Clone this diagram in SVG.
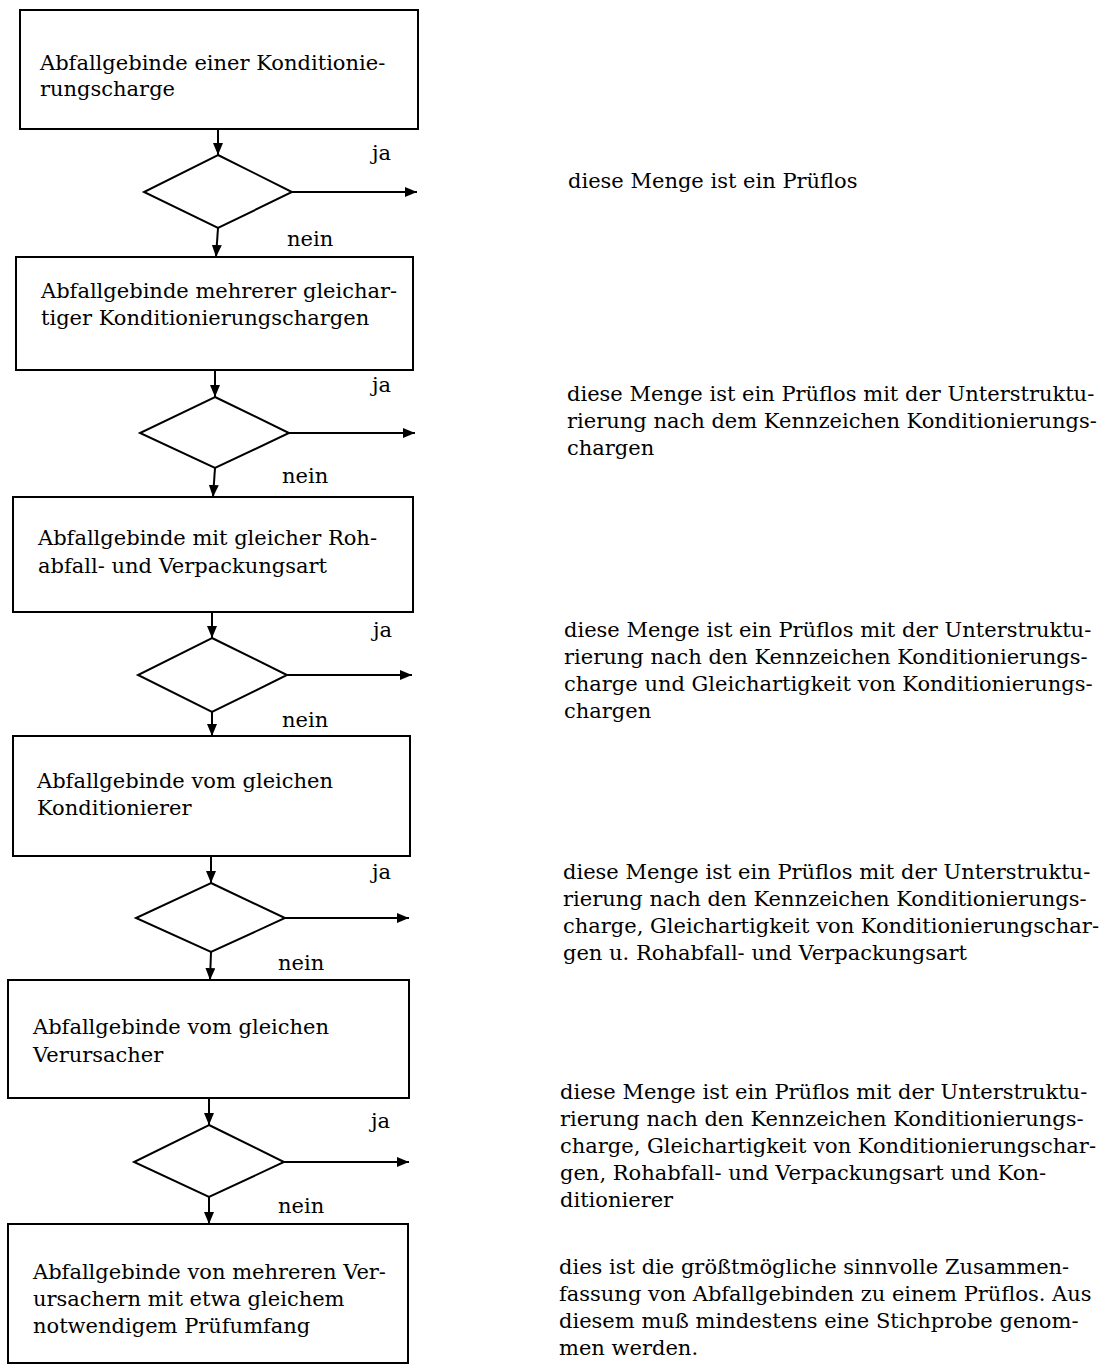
<svg xmlns="http://www.w3.org/2000/svg" width="1116" height="1367" viewBox="0 0 1116 1367">
<defs>
<style>
.box{fill:#fff;stroke:#000;stroke-width:2}
.dia{fill:#fff;stroke:#000;stroke-width:2;stroke-linejoin:miter}
.con{stroke:#000;stroke-width:2;fill:none}
text{font-family:"DejaVu Serif","Liberation Serif",serif;font-size:21px;fill:#000}
</style>
<marker id="ah" markerUnits="userSpaceOnUse" markerWidth="14" markerHeight="12" refX="12" refY="5" orient="auto">
<path d="M0,0 L12,5 L0,10 z" fill="#000"/>
</marker>
</defs>
<rect width="1116" height="1367" fill="#fff"/>

<g id="connectors">
<line class="con" x1="218" y1="129" x2="218" y2="155" marker-end="url(#ah)"/>
<line class="con" x1="292" y1="192" x2="417" y2="192" marker-end="url(#ah)"/>
<line class="con" x1="218" y1="228" x2="216" y2="257" marker-end="url(#ah)"/>
<line class="con" x1="215" y1="370" x2="215" y2="397" marker-end="url(#ah)"/>
<line class="con" x1="289" y1="433" x2="415" y2="433" marker-end="url(#ah)"/>
<line class="con" x1="215" y1="468" x2="213" y2="497" marker-end="url(#ah)"/>
<line class="con" x1="212" y1="612" x2="212" y2="638" marker-end="url(#ah)"/>
<line class="con" x1="287" y1="675" x2="412" y2="675" marker-end="url(#ah)"/>
<line class="con" x1="212" y1="712" x2="212" y2="736" marker-end="url(#ah)"/>
<line class="con" x1="211" y1="856" x2="211" y2="883" marker-end="url(#ah)"/>
<line class="con" x1="285" y1="918" x2="409" y2="918" marker-end="url(#ah)"/>
<line class="con" x1="211" y1="952" x2="210" y2="980" marker-end="url(#ah)"/>
<line class="con" x1="209" y1="1098" x2="209" y2="1125" marker-end="url(#ah)"/>
<line class="con" x1="284" y1="1162" x2="409" y2="1162" marker-end="url(#ah)"/>
<line class="con" x1="209" y1="1197" x2="209" y2="1224" marker-end="url(#ah)"/>
<text x="372" y="160">ja</text>
<text x="287" y="246">nein</text>
<text x="372" y="392">ja</text>
<text x="282" y="483">nein</text>
<text x="373" y="637">ja</text>
<text x="282" y="727">nein</text>
<text x="372" y="879">ja</text>
<text x="278" y="970">nein</text>
<text x="371" y="1128">ja</text>
<text x="278" y="1213">nein</text>
</g>

<g id="box1">
<rect class="box" x="20" y="10" width="398" height="119"/>
<text x="40" y="70">Abfallgebinde einer Konditionie-</text>
<text x="40" y="96">rungscharge</text>
</g>
<g id="dec1"><polygon class="dia" points="218,155 292,192 218,228 144,192"/></g>
<g id="res1"><text x="568" y="188">diese Menge ist ein Prüflos</text></g>

<g id="box2">
<rect class="box" x="16" y="257" width="397" height="113"/>
<text x="41" y="298">Abfallgebinde mehrerer gleichar-</text>
<text x="41" y="325">tiger Konditionierungschargen</text>
</g>
<g id="dec2"><polygon class="dia" points="215,397 289,433 215,468 140,433"/></g>
<g id="res2">
<text x="567" y="401">diese Menge ist ein Prüflos mit der Unterstruktu-</text>
<text x="567" y="428">rierung nach dem Kennzeichen Konditionierungs-</text>
<text x="567" y="455">chargen</text>
</g>

<g id="box3">
<rect class="box" x="13" y="497" width="400" height="115"/>
<text x="38" y="545">Abfallgebinde mit gleicher Roh-</text>
<text x="38" y="573">abfall- und Verpackungsart</text>
</g>
<g id="dec3"><polygon class="dia" points="212,638 287,675 212,712 138,675"/></g>
<g id="res3">
<text x="564" y="637">diese Menge ist ein Prüflos mit der Unterstruktu-</text>
<text x="564" y="664">rierung nach den Kennzeichen Konditionierungs-</text>
<text x="564" y="691">charge und Gleichartigkeit von Konditionierungs-</text>
<text x="564" y="718">chargen</text>
</g>

<g id="box4">
<rect class="box" x="13" y="736" width="397" height="120"/>
<text x="37" y="788">Abfallgebinde vom gleichen</text>
<text x="37" y="815">Konditionierer</text>
</g>
<g id="dec4"><polygon class="dia" points="211,883 285,918 211,952 136,918"/></g>
<g id="res4">
<text x="563" y="879">diese Menge ist ein Prüflos mit der Unterstruktu-</text>
<text x="563" y="906">rierung nach den Kennzeichen Konditionierungs-</text>
<text x="563" y="933">charge, Gleichartigkeit von Konditionierungschar-</text>
<text x="563" y="960">gen u. Rohabfall- und Verpackungsart</text>
</g>

<g id="box5">
<rect class="box" x="8" y="980" width="401" height="118"/>
<text x="33" y="1034">Abfallgebinde vom gleichen</text>
<text x="33" y="1062">Verursacher</text>
</g>
<g id="dec5"><polygon class="dia" points="209,1125 284,1162 209,1197 134,1162"/></g>
<g id="res5">
<text x="560" y="1099">diese Menge ist ein Prüflos mit der Unterstruktu-</text>
<text x="560" y="1126">rierung nach den Kennzeichen Konditionierungs-</text>
<text x="560" y="1153">charge, Gleichartigkeit von Konditionierungschar-</text>
<text x="560" y="1180">gen, Rohabfall- und Verpackungsart und Kon-</text>
<text x="560" y="1207">ditionierer</text>
</g>

<g id="box6">
<rect class="box" x="8" y="1224" width="400" height="139"/>
<text x="33" y="1279">Abfallgebinde von mehreren Ver-</text>
<text x="33" y="1306">ursachern mit etwa gleichem</text>
<text x="33" y="1333">notwendigem Prüfumfang</text>
</g>
<g id="res6">
<text x="559" y="1274">dies ist die größtmögliche sinnvolle Zusammen-</text>
<text x="559" y="1301">fassung von Abfallgebinden zu einem Prüflos. Aus</text>
<text x="559" y="1328">diesem muß mindestens eine Stichprobe genom-</text>
<text x="559" y="1355">men werden.</text>
</g>
</svg>
